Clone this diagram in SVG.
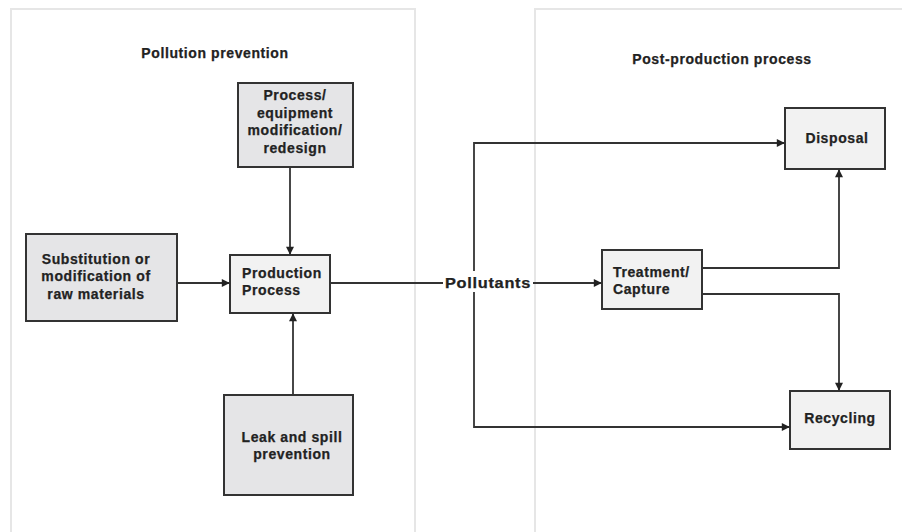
<svg xmlns="http://www.w3.org/2000/svg" width="902" height="532" viewBox="0 0 902 532">
<defs>
<style>
.panel{fill:none;stroke:#e6e6e6;stroke-width:2}
.box{stroke:#333;stroke-width:2}
.dark{fill:#e5e5e7}
.light{fill:#f2f2f2}
text{font-family:"Liberation Sans",Arial,sans-serif;font-weight:bold;font-size:14px;letter-spacing:0.6px;fill:#222;stroke:#222;stroke-width:0.25}
.c{text-anchor:middle}
.conn{fill:none;stroke:#333;stroke-width:1.8}
</style>
<marker id="arr" viewBox="0 0 10 10" refX="9" refY="5" markerWidth="9" markerHeight="8" markerUnits="userSpaceOnUse" orient="auto">
<path d="M0,0 L10,5 L0,10 z" fill="#222"/>
</marker>
</defs>
<rect width="902" height="532" fill="#fff"/>
<rect class="panel" x="11" y="9" width="404" height="540"/>
<rect class="panel" x="535" y="9" width="400" height="540"/>
<text class="c" x="215" y="58">Pollution prevention</text>
<text class="c" x="722" y="64">Post-production process</text>
<g id="process-equipment">
<rect class="box dark" x="238" y="83" width="115" height="84"/>
<text class="c" x="295" y="100">Process/</text>
<text class="c" x="295" y="118">equipment</text>
<text class="c" x="295" y="135">modification/</text>
<text class="c" x="295" y="153">redesign</text>
</g>
<g id="substitution">
<rect class="box dark" x="26" y="234" width="151" height="87"/>
<text class="c" x="96" y="264">Substitution or</text>
<text class="c" x="96" y="281">modification of</text>
<text class="c" x="96" y="299">raw materials</text>
</g>
<g id="production">
<rect class="box light" x="230" y="255" width="100" height="58"/>
<text x="242" y="278">Production</text>
<text x="242" y="295">Process</text>
</g>
<g id="leak">
<rect class="box dark" x="224" y="395" width="129" height="100"/>
<text class="c" x="292" y="442">Leak and spill</text>
<text class="c" x="292" y="459">prevention</text>
</g>
<g id="pollutants">
<text x="445" y="288" textLength="86" lengthAdjust="spacingAndGlyphs">Pollutants</text>
</g>
<g id="treatment">
<rect class="box light" x="602" y="250" width="100" height="59"/>
<text x="613" y="277">Treatment/</text>
<text x="613" y="294">Capture</text>
</g>
<g id="disposal">
<rect class="box light" x="785" y="108" width="100" height="61"/>
<text class="c" x="837" y="143">Disposal</text>
</g>
<g id="recycling">
<rect class="box light" x="790" y="391" width="100" height="58"/>
<text class="c" x="840" y="423">Recycling</text>
</g>
<g id="connectors">
<path class="conn" d="M290,167 V254" marker-end="url(#arr)"/>
<path class="conn" d="M177,283 H229" marker-end="url(#arr)"/>
<path class="conn" d="M293,395 V314" marker-end="url(#arr)"/>
<path class="conn" d="M330,283 H443"/>
<path class="conn" d="M533,283 H601" marker-end="url(#arr)"/>
<path class="conn" d="M474,271 V143 H784" marker-end="url(#arr)"/>
<path class="conn" d="M474,292 V427 H789" marker-end="url(#arr)"/>
<path class="conn" d="M702,268 H839 V170" marker-end="url(#arr)"/>
<path class="conn" d="M702,294 H839 V390" marker-end="url(#arr)"/>
</g>
</svg>
